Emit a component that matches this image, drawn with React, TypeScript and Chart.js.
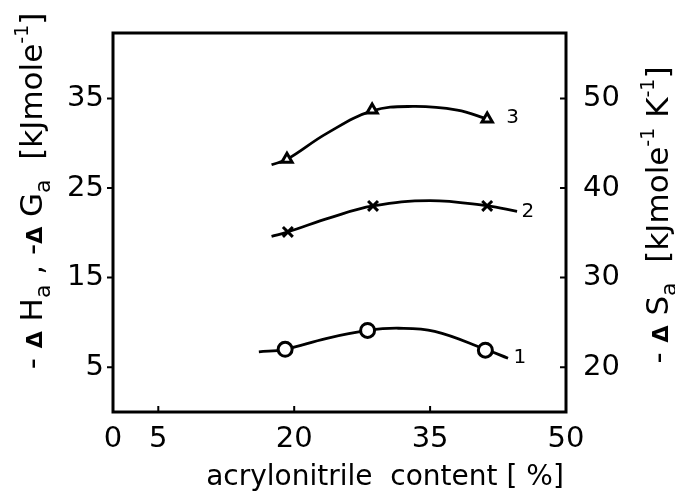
import React, { useEffect, useRef } from "react";
import { Chart, registerables } from "chart.js";

Chart.register(...registerables);

// ---- data ----
const xTicks = [0, 5, 20, 35, 50];
const leftTicks = [5, 15, 25, 35];
const rightTicks = [20, 30, 40, 50];

// measured points (acrylonitrile content %, -ΔH / -ΔG / -ΔS on left-axis scale)
const s1x = [19.0, 28.1, 41.1];
const s1y = [7.0, 9.1, 6.9];
const s2x = [19.3, 28.7, 41.3];
const s2y = [20.1, 23.0, 23.0];
const s3x = [19.2, 28.6, 41.3];
const s3y = [28.2, 33.7, 32.7];

// hand-drawn fitted curves
const c1x = [16.1, 19.0, 23.5, 28.1, 31.5, 35.5, 41.1, 43.6];
const c1y = [6.7, 7.0, 8.2, 9.1, 9.35, 9.0, 7.0, 6.0];
const c2x = [17.5, 19.3, 24.0, 28.7, 35.0, 41.3, 44.6];
const c2y = [19.6, 20.1, 21.7, 23.0, 23.6, 23.0, 22.4];
const c3x = [17.5, 19.2, 23.6, 28.6, 33.1, 38.0, 41.3];
const c3y = [27.6, 28.2, 31.1, 33.6, 34.1, 33.7, 32.7];

const curveLabels = ["1", "2", "3"];
const labelX = [44.2, 45.1, 43.4];
const labelY = [6.0, 22.3, 32.8];

const FONT = '"DejaVu Sans"';

const pts = (xs: number[], ys: number[]) => xs.map((x, i) => ({ x, y: ys[i] }));

type Seg = { t: string; size: number; dy?: number; bold?: boolean };

function drawRich(ctx: CanvasRenderingContext2D, segs: Seg[], cx: number, cy: number, rot: number) {
  ctx.save();
  ctx.translate(cx, cy);
  ctx.rotate(rot);
  let total = 0;
  for (const s of segs) {
    ctx.font = `${s.bold ? "bold " : ""}${s.size}px ${FONT}`;
    total += ctx.measureText(s.t).width;
  }
  let x = -total / 2;
  ctx.textAlign = "left";
  ctx.textBaseline = "alphabetic";
  ctx.fillStyle = "#000";
  for (const s of segs) {
    ctx.font = `${s.bold ? "bold " : ""}${s.size}px ${FONT}`;
    ctx.fillText(s.t, x, s.dy || 0);
    x += ctx.measureText(s.t).width;
  }
  ctx.restore();
}

const overlay = {
  id: "overlay",
  afterDraw(chart: any) {
    const { ctx, chartArea: a, scales } = chart;
    ctx.save();
    ctx.strokeStyle = "#000";
    ctx.lineWidth = 3;
    ctx.strokeRect(a.left, a.top, a.right - a.left, a.bottom - a.top);
    ctx.lineWidth = 2;
    ctx.beginPath();
    for (const v of xTicks) {
      if (v === 0 || v === 50) continue;
      const px = scales.x.getPixelForValue(v);
      ctx.moveTo(px, a.bottom);
      ctx.lineTo(px, a.bottom - 6);
    }
    for (const v of leftTicks) {
      const py = scales.y.getPixelForValue(v);
      ctx.moveTo(a.left, py);
      ctx.lineTo(a.left - 6, py);
    }
    for (const v of rightTicks) {
      const py = scales.y2.getPixelForValue(v);
      ctx.moveTo(a.right, py);
      ctx.lineTo(a.right - 6, py);
    }
    ctx.stroke();

    // curve labels
    ctx.fillStyle = "#000";
    ctx.font = `20px ${FONT}`;
    ctx.textAlign = "left";
    ctx.textBaseline = "middle";
    curveLabels.forEach((t, i) => {
      ctx.fillText(t, scales.x.getPixelForValue(labelX[i]), scales.y.getPixelForValue(labelY[i]));
    });
    ctx.restore();

    // axis titles
    const big = 31;
    const sub = 22;
    drawRich(
      ctx,
      [
        { t: "- ", size: big },
        { t: "Δ", size: 22, bold: true },
        { t: " H", size: big },
        { t: "a", size: sub, dy: 8 },
        { t: " , -", size: big },
        { t: "Δ", size: 22, bold: true },
        { t: " G", size: big },
        { t: "a", size: sub, dy: 8 },
        { t: "  [kJmole", size: big },
        { t: "-1", size: 19, dy: -14 },
        { t: "]", size: big },
      ],
      42,
      191,
      -Math.PI / 2
    );
    drawRich(
      ctx,
      [
        { t: "- ", size: big },
        { t: "Δ", size: 22, bold: true },
        { t: " S", size: big },
        { t: "a", size: sub, dy: 8 },
        { t: "  [kJmole", size: big },
        { t: "-1", size: 19, dy: -14 },
        { t: " K", size: big },
        { t: "-1", size: 19, dy: -14 },
        { t: "]", size: big },
      ],
      668,
      215,
      -Math.PI / 2
    );
    drawRich(ctx, [{ t: "acrylonitrile  content [ %]", size: 28 }], 385, 485, 0);
  },
};

export default function App() {
  const ref = useRef<HTMLCanvasElement | null>(null);
  useEffect(() => {
    if (!ref.current) return;
    const curve = (xs: number[], ys: number[]) => ({
      type: "line" as const,
      data: pts(xs, ys),
      borderColor: "#000",
      borderWidth: 2.8,
      pointRadius: 0,
      tension: 0.4,
      fill: false,
      yAxisID: "y",
      order: 2,
    });
    const marks = (xs: number[], ys: number[], style: string, r: number) => ({
      type: "line" as const,
      data: pts(xs, ys),
      showLine: false,
      pointStyle: style,
      pointRadius: r,
      pointBorderWidth: 3,
      pointBorderColor: "#000",
      pointBackgroundColor: "#fff",
      borderColor: "#000",
      backgroundColor: "#fff",
      yAxisID: "y",
      order: 1,
    });
    const chart = new Chart(ref.current, {
      type: "line",
      data: {
        datasets: [
          curve(c1x, c1y),
          curve(c2x, c2y),
          curve(c3x, c3y),
          marks(s1x, s1y, "circle", 7),
          marks(s2x, s2y, "crossRot", 7),
          marks(s3x, s3y, "triangle", 6),
        ] as any,
      },
      options: {
        animation: false,
        responsive: true,
        maintainAspectRatio: false,
        layout: { padding: { top: 33, left: 0, right: 0, bottom: 0 } },
        plugins: { legend: { display: false }, tooltip: { enabled: false } },
        scales: {
          x: {
            type: "linear",
            min: 0,
            max: 50,
            afterBuildTicks: (s: any) => {
              s.ticks = xTicks.map((v) => ({ value: v }));
            },
            afterFit: (s: any) => {
              s.height = 86;
            },
            grid: { display: false },
            border: { display: false },
            ticks: { color: "#000", font: { family: FONT, size: 29 }, padding: 2, maxRotation: 0, autoSkip: false },
          },
          y: {
            type: "linear",
            position: "left",
            min: 0,
            max: 42.3,
            afterBuildTicks: (s: any) => {
              s.ticks = leftTicks.map((v) => ({ value: v }));
            },
            afterFit: (s: any) => {
              s.width = 113;
            },
            grid: { display: false },
            border: { display: false },
            ticks: { color: "#000", font: { family: FONT, size: 29 }, padding: 1 },
          },
          y2: {
            type: "linear",
            position: "right",
            min: 15,
            max: 57.3,
            afterBuildTicks: (s: any) => {
              s.ticks = rightTicks.map((v) => ({ value: v }));
            },
            afterFit: (s: any) => {
              s.width = 109;
            },
            grid: { display: false },
            border: { display: false },
            ticks: { color: "#000", font: { family: FONT, size: 29 }, padding: 9 },
          },
        },
      },
      plugins: [overlay],
    } as any);
    return () => chart.destroy();
  }, []);
  return (
    <div style={{ position: "absolute", left: 0, top: 0, width: 675, height: 498, background: "#fff" }}>
      <canvas ref={ref} />
    </div>
  );
}
